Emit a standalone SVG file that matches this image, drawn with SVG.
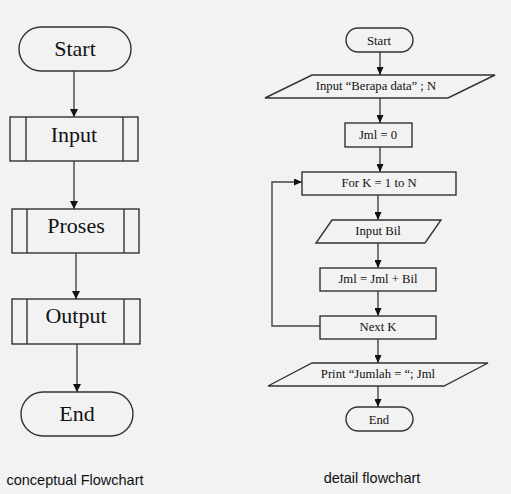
<svg xmlns="http://www.w3.org/2000/svg" width="511" height="494" viewBox="0 0 511 494">
<style>
.s{fill:none;stroke:#333;stroke-width:1.4}
.c{fill:none;stroke:#444;stroke-width:1.4}
.tl{font-family:"Liberation Serif","Times New Roman",serif;font-size:22px;fill:#111;text-anchor:middle}
.tr{font-family:"Liberation Serif","Times New Roman",serif;font-size:12.7px;fill:#111;text-anchor:middle}
.cap{font-family:"Liberation Sans",Arial,sans-serif;font-size:14.5px;fill:#111;text-anchor:middle}
</style>
<defs>
<marker id="aL" markerWidth="8" markerHeight="9" refX="8" refY="4" orient="auto" markerUnits="userSpaceOnUse">
<path d="M0,0 L8,4 L0,8 Z" fill="#111"/>
</marker>
<marker id="aR" markerWidth="8" markerHeight="7" refX="8" refY="3.5" orient="auto" markerUnits="userSpaceOnUse">
<path d="M0,0 L8,3.5 L0,7 Z" fill="#111"/>
</marker>
</defs>
<rect width="511" height="494" fill="#f2f2f2"/>
<g id="connectors">
<line class="c" x1="74" y1="71" x2="74" y2="117" marker-end="url(#aL)"/>
<line class="c" x1="74" y1="161" x2="74" y2="209" marker-end="url(#aL)"/>
<line class="c" x1="76" y1="253" x2="76" y2="299" marker-end="url(#aL)"/>
<line class="c" x1="77" y1="344" x2="77" y2="392" marker-end="url(#aL)"/>
<line class="c" x1="380" y1="52" x2="380" y2="75" marker-end="url(#aR)"/>
<line class="c" x1="380" y1="98" x2="380" y2="123" marker-end="url(#aR)"/>
<line class="c" x1="380" y1="147" x2="380" y2="172" marker-end="url(#aR)"/>
<line class="c" x1="378" y1="195" x2="378" y2="220" marker-end="url(#aR)"/>
<line class="c" x1="378" y1="243" x2="378" y2="268" marker-end="url(#aR)"/>
<line class="c" x1="378" y1="291" x2="378" y2="316" marker-end="url(#aR)"/>
<line class="c" x1="378" y1="339" x2="378" y2="363" marker-end="url(#aR)"/>
<line class="c" x1="378" y1="386" x2="378" y2="407" marker-end="url(#aR)"/>
<polyline class="c" points="320,326 272,326 272,182 302,182" marker-end="url(#aR)"/>
</g>
<g id="startL"><rect class="s" x="19" y="27" width="112" height="44" rx="22"/><text class="tl" x="75" y="56">Start</text></g>
<g id="inputL"><rect class="s" x="10" y="117" width="128" height="44"/><line class="s" x1="26" y1="117" x2="26" y2="161"/><line class="s" x1="123" y1="117" x2="123" y2="161"/><text class="tl" x="74" y="142">Input</text></g>
<g id="prosesL"><rect class="s" x="12" y="209" width="127" height="44"/><line class="s" x1="27" y1="209" x2="27" y2="253"/><line class="s" x1="124" y1="209" x2="124" y2="253"/><text class="tl" x="76" y="233">Proses</text></g>
<g id="outputL"><rect class="s" x="12" y="299" width="128" height="45"/><line class="s" x1="27" y1="299" x2="27" y2="344"/><line class="s" x1="124" y1="299" x2="124" y2="344"/><text class="tl" x="76" y="323">Output</text></g>
<g id="endL"><rect class="s" x="21" y="392" width="112" height="44" rx="22"/><text class="tl" x="77" y="421">End</text></g>
<g id="startR"><rect class="s" x="346" y="28" width="67" height="24" rx="12"/><text class="tr" x="379" y="45">Start</text></g>
<g id="inputR"><polygon class="s" points="312,75 495,75 448,98 265,98"/><text class="tr" x="376" y="90">Input “Berapa data” ; N</text></g>
<g id="jml0"><rect class="s" x="345" y="123" width="67" height="24"/><text class="tr" x="378" y="139">Jml = 0</text></g>
<g id="forK"><rect class="s" x="302" y="172" width="154" height="23"/><text class="tr" x="379" y="187">For K = 1 to N</text></g>
<g id="inputBil"><polygon class="s" points="332,220 441,220 425,243 316,243"/><text class="tr" x="378" y="235">Input Bil</text></g>
<g id="jmlBil"><rect class="s" x="320" y="268" width="116" height="23"/><text class="tr" x="378" y="283">Jml = Jml + Bil</text></g>
<g id="nextK"><rect class="s" x="320" y="316" width="116" height="23"/><text class="tr" x="378" y="331">Next K</text></g>
<g id="print"><polygon class="s" points="312,363 488,363 444,386 268,386"/><text class="tr" x="378" y="378">Print “Jumlah = “; Jml</text></g>
<g id="endR"><rect class="s" x="346" y="407" width="67" height="24" rx="12"/><text class="tr" x="379" y="424">End</text></g>
<text class="cap" x="75" y="485">conceptual Flowchart</text>
<text class="cap" x="372" y="483">detail flowchart</text>
</svg>
